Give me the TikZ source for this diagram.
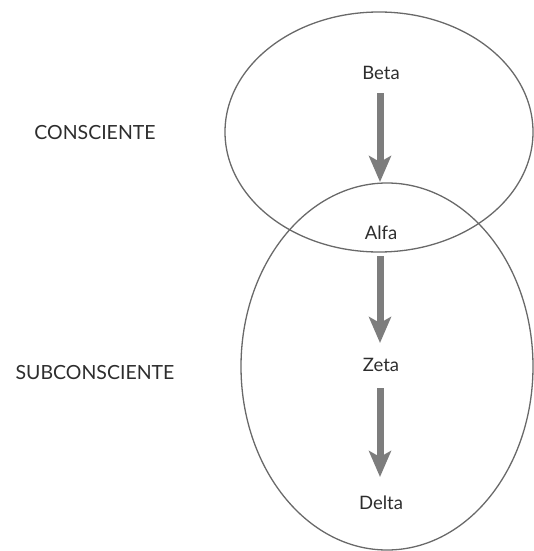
\documentclass[tikz,border=0pt]{standalone}
\usepackage{fontspec}
\setmainfont{Lato}
\usetikzlibrary{arrows.meta}
\definecolor{ringcol}{RGB}{105,105,105}
\definecolor{flowcol}{RGB}{125,125,125}
\definecolor{txtcol}{RGB}{45,45,45}
\tikzset{
  ring/.style={draw=ringcol, line width=1.3pt},
  level/.style={text=txtcol, font=\fontsize{18.5}{22}\selectfont, inner sep=0pt},
  side/.style={text=txtcol, font=\fontsize{19.5}{23}\selectfont, inner sep=0pt},
  flow/.style={draw=flowcol, line width=7pt,
    -{Stealth[length=26pt,width=22pt,inset=6pt]}}
}
\begin{document}
\begin{tikzpicture}[x=1pt,y=-1pt]
  \useasboundingbox (0,0) rectangle (534,551);
  % the two overlapping regions of the mind
  \draw[ring] (379,132) ellipse [x radius=154, y radius=120];
  \draw[ring] (387,366.5) ellipse [x radius=146, y radius=183.5];
  % states
  \node[level] (beta)  at (381,73)  {Beta};
  \node[level] (alfa)  at (381,233) {Alfa};
  \node[level] (zeta)  at (381,365) {Zeta};
  \node[level] (delta) at (381,503) {Delta};
  % region labels
  \node[side] (cons) at (95,133) {CONSCIENTE};
  \node[side] (sub)  at (95,373) {SUBCONSCIENTE};
  % descent between states
  \coordinate (t1) at (380,182);
  \coordinate (t2) at (380,343);
  \coordinate (t3) at (380,477);
  \draw[flow] (380,93) -- (t1);
  \draw[flow] (380,256) -- (t2);
  \draw[flow] (380,388) -- (t3);
\end{tikzpicture}
\end{document}
